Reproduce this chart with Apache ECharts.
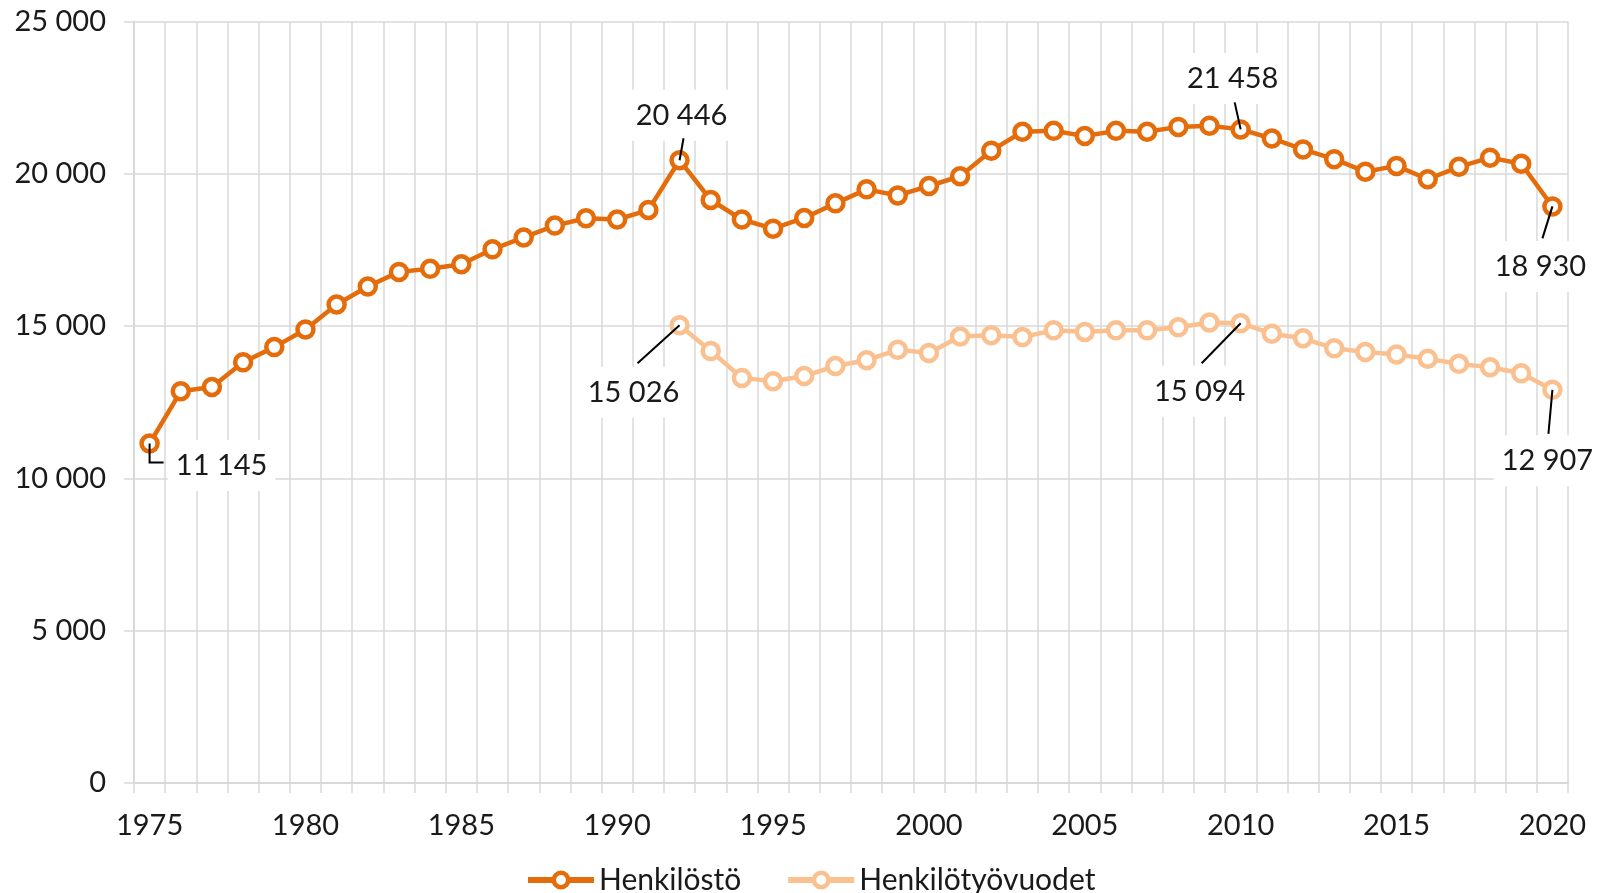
<!DOCTYPE html>
<html>
<head>
<meta charset="utf-8">
<script src="https://cdn.jsdelivr.net/npm/echarts@6/dist/echarts.min.js"></script>
<style>html,body{margin:0;padding:0;background:#fff}#chart{width:1604px;height:893px}</style>
</head>
<body>
<div id="chart"></div>
<script>
// data
const years = ['1975','1976','1977','1978','1979','1980','1981','1982','1983','1984',
  '1985','1986','1987','1988','1989','1990','1991','1992','1993','1994',
  '1995','1996','1997','1998','1999','2000','2001','2002','2003','2004',
  '2005','2006','2007','2008','2009','2010','2011','2012','2013','2014',
  '2015','2016','2017','2018','2019','2020']
const henkilosto = [11145,12860,13000,13810,14310,14890,15710,16300,16780,16880,
  17030,17520,17910,18300,18540,18500,18810,20446,19140,18500,
  18200,18550,19030,19490,19290,19600,19920,20760,21380,21410,
  21240,21410,21380,21540,21580,21458,21160,20800,20480,20070,
  20260,19820,20230,20530,20330,18930]
const henkilotyovuodet = [null,null,null,null,null,null,null,null,null,null,
  null,null,null,null,null,null,null,15026,14180,13300,
  13190,13360,13690,13880,14220,14120,14660,14700,14640,14860,
  14810,14860,14860,14960,15120,15094,14750,14600,14270,14150,
  14070,13930,13760,13650,13450,12907]
const labelledHenkilosto = ['1975','1992','2010','2020']
const labelledTyovuodet = ['1992','2010','2020']

// label centre offset from the point, and leader line points (px, relative to the point)
const labelOffsets = [
  {
    '1975': { at: [72, 22], line: [[0, 0], [0, 19], [14, 19]] },
    '1992': { at: [2, -45], line: [[0, 0], [4, -22]] },
    '2010': { at: [-8, -51], line: [[0, 0], [-6, -27]] },
    '2020': { at: [-12, 60], line: [[0, 0], [-10, 32]] }
  },
  {
    '1992': { at: [-46, 67], line: [[0, 0], [-42, 38]] },
    '2010': { at: [-41, 68], line: [[0, 0], [-39, 40]] },
    '2020': { at: [-5, 71], line: [[0, 0], [-4, 44]] }
  }
]

const FONT = 'Lato'
const TXT = '#1a1a1a'
const GRID = '#d9d9d9'

function fmt(v) {
  return String(v).replace(/\B(?=(\d{3})+(?!\d))/g, ' ')
}

function withLabels(values, labelled) {
  return values.map((v, i) => labelled.indexOf(years[i]) >= 0
    ? { value: v, label: { show: true } }
    : v)
}

function lineSeries(name, values, labelled, color) {
  return {
    name: name,
    type: 'line',
    data: withLabels(values, labelled),
    symbol: 'circle',
    symbolSize: 16,
    color: color,
    lineStyle: { width: 4.5, color: color },
    itemStyle: { color: '#fff', borderColor: color, borderWidth: 4.5 },
    label: {
      show: false,
      formatter: p => fmt(p.value),
      fontFamily: FONT,
      fontSize: 29,
      color: TXT,
      backgroundColor: '#fff',
      padding: [11, 8]
    },
    labelLine: { show: false },
    labelLayout: function (p) {
      const o = labelOffsets[p.seriesIndex][years[p.dataIndex]]
      if (!o) return {}
      const cx = p.rect.x + p.rect.width / 2
      const cy = p.rect.y + p.rect.height / 2
      return { x: cx + o.at[0], y: cy + o.at[1], align: 'center', verticalAlign: 'middle' }
    },
    emphasis: { disabled: true },
    animation: false
  }
}

const chart = echarts.init(document.getElementById('chart'))
chart.setOption({
  backgroundColor: '#fff',
  animation: false,
  grid: { left: 134, right: 36, top: 21.5, bottom: 110, outerBoundsMode: 'none' },
  legend: {
    data: ['Henkilöstö', 'Henkilötyövuodet'],
    left: 520,
    top: 860,
    itemWidth: 66,
    itemHeight: 18,
    itemGap: 44,
    lineStyle: { width: 6 },
    itemStyle: { borderWidth: 4.5 },
    textStyle: { fontFamily: FONT, fontSize: 30, color: TXT, padding: [0, 0, 0, 0] }
  },
  xAxis: {
    type: 'category',
    data: years,
    boundaryGap: true,
    axisLine: { show: true, lineStyle: { color: GRID, width: 2 } },
    axisTick: { show: true, interval: 0, length: 10, lineStyle: { color: GRID, width: 1.5 } },
    splitLine: { show: true, interval: 0, lineStyle: { color: GRID, width: 1.5 } },
    axisLabel: { interval: 4, margin: 28, fontFamily: FONT, fontSize: 29, color: TXT }
  },
  yAxis: {
    type: 'value',
    min: 0,
    max: 25000,
    interval: 5000,
    axisLine: { show: true, lineStyle: { color: GRID, width: 2 } },
    axisTick: { show: true, length: 10, lineStyle: { color: GRID, width: 1.5 } },
    splitLine: { show: true, lineStyle: { color: GRID, width: 1.5 } },
    axisLabel: { margin: 28, fontFamily: FONT, fontSize: 29, color: TXT, formatter: fmt }
  },
  series: [
    lineSeries('Henkilöstö', henkilosto, labelledHenkilosto, '#E46C0A'),
    lineSeries('Henkilötyövuodet', henkilotyovuodet, labelledTyovuodet, '#FAC090')
  ]
})

// leader lines, anchored on the points the chart computed
const seriesValues = [henkilosto, henkilotyovuodet]
const leaders = []
labelOffsets.forEach((offs, s) => {
  Object.keys(offs).forEach(yr => {
    const i = years.indexOf(yr)
    const pt = chart.convertToPixel({ gridIndex: 0 }, [yr, seriesValues[s][i]])
    leaders.push({
      type: 'polyline',
      z: 10,
      silent: true,
      shape: { points: offs[yr].line.map(q => [pt[0] + q[0], pt[1] + q[1]]) },
      style: { stroke: '#000', lineWidth: 2, fill: null }
    })
  })
})
chart.setOption({ graphic: leaders })
</script>
</body>
</html>
